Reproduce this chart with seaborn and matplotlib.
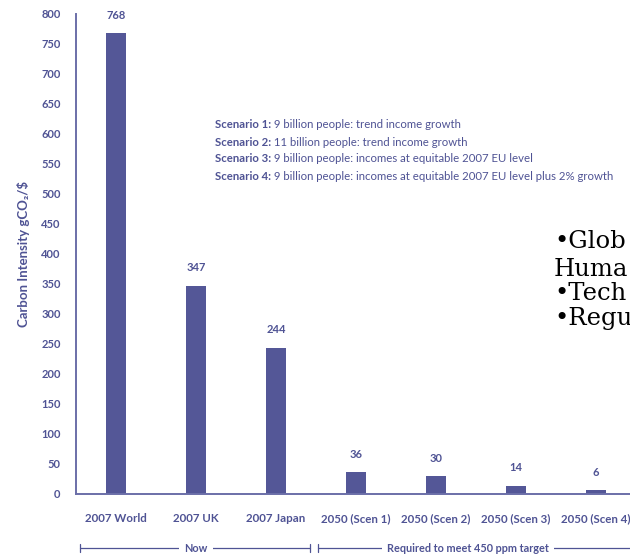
import matplotlib
matplotlib.use("Agg")
import matplotlib.pyplot as plt
import matplotlib.transforms as mtransforms
import seaborn as sns
import pandas as pd

categories = ["2007 World", "2007 UK", "2007 Japan", "2050 (Scen 1)",
              "2050 (Scen 2)", "2050 (Scen 3)", "2050 (Scen 4)"]
values = [768, 347, 244, 36, 30, 14, 6]
y_ticks = [0, 50, 100, 150, 200, 250, 300, 350, 400, 450, 500, 550, 600, 650, 700, 750, 800]
scenario_names = ["Scenario 1:", "Scenario 2:", "Scenario 3:", "Scenario 4:"]
scenario_texts = ["9 billion people: trend income growth",
                  "11 billion people: trend income growth",
                  "9 billion people: incomes at equitable 2007 EU level",
                  "9 billion people: incomes at equitable 2007 EU level plus 2% growth"]
group_labels = ["Now", "Required to meet 450 ppm target"]
overlay_lines = ["\u2022Glob", "Huma", "\u2022Tech", "\u2022Regu"]

sns.set_style("white")
plt.rcParams["font.family"] = ["Lato", "DejaVu Sans"]

BAR = "#545797"
TXT = "#4f5394"
AX = "#6b6fa8"

df = pd.DataFrame({"cat": categories, "val": values})

fig = plt.figure(figsize=(6.3, 5.58), dpi=100)
ax = fig.add_axes([76 / 630, 64 / 558, 560 / 630, 480 / 558])
sns.barplot(data=df, x="cat", y="val", color=BAR, width=0.26, saturation=1,
            ax=ax, edgecolor="none")

ax.set_ylim(0, 800)
ax.set_xlim(-0.5, len(categories) - 0.5)
ax.set_yticks(y_ticks)
ax.set_yticklabels([str(t) for t in y_ticks], fontsize=8, fontweight="bold", color=TXT)
ax.set_xticks(range(len(categories)))
ax.set_xticklabels(categories, fontsize=8.3, fontweight="bold", color=TXT)
ax.set_xticks([i - 0.5 for i in range(len(categories) + 1)], minor=True)
ax.tick_params(axis="x", which="major", length=0, pad=14)
ax.tick_params(axis="x", which="minor", length=7, width=1.2, color=AX, direction="out")
ax.tick_params(axis="y", which="major", length=7, width=1.2, color=AX, direction="out", pad=4)
for s in ["top", "right"]:
    ax.spines[s].set_visible(False)
for s in ["left", "bottom"]:
    ax.spines[s].set_color(AX)
    ax.spines[s].set_linewidth(1.4)
ax.set_xlabel("")
ax.set_ylabel("Carbon Intensity gCO\u2082/$", fontsize=9.5, fontweight="bold", color=TXT,
              labelpad=8)
ax.grid(False)

for i, v in enumerate(values):
    ax.annotate(str(v), (i, v), xytext=(0, 9), textcoords="offset points",
                ha="center", va="bottom", fontsize=8, fontweight="bold", color=TXT)

# scenario legend text
for k, (n, t) in enumerate(zip(scenario_names, scenario_texts)):
    y = 125 + 17 * k
    name = fig.text(215 / 630, 1 - y / 558, n, fontsize=8.2, fontweight="bold", color=TXT,
                    va="center", ha="left")
    ax.annotate(" " + t, xy=(1, 0.5), xycoords=name, va="center", ha="left",
                fontsize=8.2, color=TXT, annotation_clip=False)

# group brackets below axis
trans = mtransforms.blended_transform_factory(ax.transData, fig.transFigure)
yb = 1 - 548 / 558
spans = [(-0.45, 2.42), (2.53, 6.7)]
centers = [1.0, 4.4]
for (x0, x1), xc, lab in zip(spans, centers, group_labels):
    ax.plot([x0, x1], [yb, yb], color=TXT, lw=0.9, transform=trans, clip_on=False)
    ax.plot([x0, x0], [yb - 0.007, yb + 0.007], color=TXT, lw=0.9, transform=trans, clip_on=False)
    if x1 < 6.5:
        ax.plot([x1, x1], [yb - 0.007, yb + 0.007], color=TXT, lw=0.9, transform=trans, clip_on=False)
    ax.text(xc, yb, lab, transform=trans, ha="center", va="center", fontsize=7.8,
            fontweight="bold", color=TXT,
            bbox=dict(facecolor="white", edgecolor="none", pad=4))

# slide overlay text
ys = [242, 270, 294, 318]
for line, y in zip(overlay_lines, ys):
    fig.text(554 / 630, 1 - y / 558, line, fontsize=17.5, family=["DejaVu Serif"],
             color="black", va="center", ha="left")

fig.savefig("out.png", dpi=100)
